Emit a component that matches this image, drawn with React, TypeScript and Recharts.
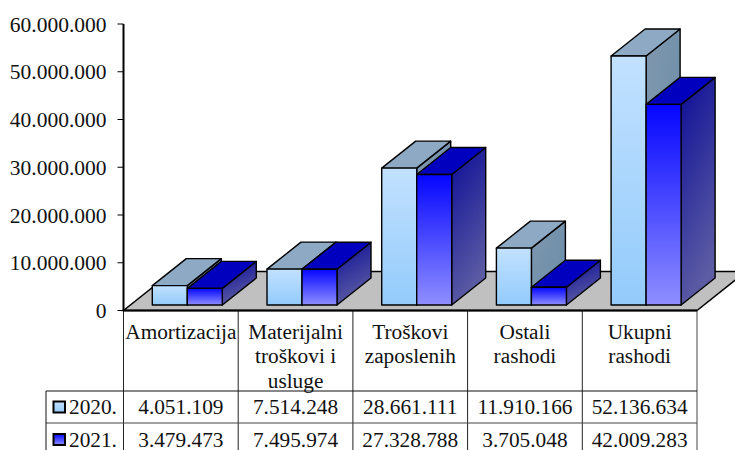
import React from "react";
import { BarChart, Bar, XAxis, YAxis, usePlotArea } from "recharts";

const categories = ["Amortizacija", "Materijalni|troškovi i|usluge", "Troškovi|zaposlenih", "Ostali|rashodi", "Ukupni|rashodi"];
const values2020 = [4051109, 7514248, 28661111, 11910166, 52136634];
const values2021 = [3479473, 7495974, 27328788, 3705048, 42009283];
const seriesNames = ["2020.", "2021."];
const yTicks = [0, 10000000, 20000000, 30000000, 40000000, 50000000, 60000000];

const data = categories.map((c, i) => ({ name: c, a: values2020[i], b: values2021[i] }));
const FONT = "'Liberation Serif', 'Times New Roman', serif";
const fmt = (v: number) => String(v).replace(/\B(?=(\d{3})+(?!\d))/g, ".");

const DX = 34, DY = 27, SHIFT_X = 6.8, SHIFT_Y = -5.5;
const STROKE = { stroke: "#000", strokeWidth: 1.4, strokeLinejoin: "round" as const };

function box(front: string, side: string, top: string) {
  return (p: any) => {
    const x = p.x + SHIFT_X, y = p.y + SHIFT_Y, w = p.width, h = p.height;
    return (
      <g>
        <polygon points={`${x + w},${y} ${x + w + DX},${y - DY} ${x + w + DX},${y + h - DY} ${x + w},${y + h}`} fill={side} {...STROKE} />
        <polygon points={`${x},${y} ${x + DX},${y - DY} ${x + w + DX},${y - DY} ${x + w},${y}`} fill={top} {...STROKE} />
        <rect x={x} y={y} width={w} height={h} fill={front} {...STROKE} />
      </g>
    );
  };
}

function Floor() {
  const pa = usePlotArea();
  if (!pa) return null;
  const x0 = pa.x, x1 = pa.x + pa.width, yb = pa.y + pa.height, d = 39, dx = 49;
  return <polygon points={`${x0},${yb} ${x1},${yb} ${x1 + dx},${yb - d} ${x0 + dx},${yb - d}`} fill="#C0C0C0" stroke="#000" strokeWidth={1.5} />;
}

function TableGrid() {
  const pa = usePlotArea();
  if (!pa) return null;
  const x0 = pa.x, yb = pa.y + pa.height, slot = pa.width / categories.length;
  const left = 46, r1 = 391, r2 = 423, bottom = 452;
  const cols = categories.map((_, i) => x0 + slot * i).concat(x0 + pa.width);
  return (
    <g>
      {cols.map((cx, i) => (
        <line key={i} x1={cx} x2={cx} y1={yb} y2={bottom} stroke={i === 5 ? "#444" : "#222"} strokeWidth={1} />
      ))}
      <line x1={left} x2={x0 + pa.width} y1={r1} y2={r1} stroke="#111" strokeWidth={1.2} />
      <line x1={left} x2={x0 + pa.width} y1={r2} y2={r2} stroke="#444" strokeWidth={1.2} />
      <line x1={left} x2={left} y1={r1} y2={bottom} stroke="#111" strokeWidth={1} />
      {seriesNames.map((n, i) => {
        const cy = i === 0 ? 407 : 439.5;
        return (
          <g key={n}>
            <rect x={53.5} y={cy - 5.5} width={11.5} height={11} fill={i === 0 ? "url(#frontA)" : "url(#frontB)"} stroke="#000" strokeWidth={2} />
            <text x={69} y={cy + 7} fontFamily={FONT} fontSize={21.3} fill="#111">{n}</text>
          </g>
        );
      })}
    </g>
  );
}

function CategoryTick(p: any) {
  const { x, payload, index } = p;
  const lines = String(payload.value).split("|");
  return (
    <g fontFamily={FONT} fontSize={21.3} fill="#111" textAnchor="middle">
      {lines.map((l: string, i: number) => (
        <text key={i} x={x} y={338.5 + i * 24.6}>{l}</text>
      ))}
      <text x={x} y={414}>{fmt(values2020[index])}</text>
      <text x={x} y={446.5}>{fmt(values2021[index])}</text>
    </g>
  );
}

export default function App() {
  return (
    <div style={{ position: "absolute", left: 0, top: 0, width: 735, height: 450, overflow: "hidden", background: "#fff" }}>
      <BarChart
        width={735}
        height={450}
        data={data}
        barSize={35}
        barGap={0}
        margin={{ top: 24, right: 38, bottom: 0, left: 0 }}
      >
        <defs>
          <linearGradient id="frontA" x1="0" y1="0" x2="0" y2="1">
            <stop offset="0" stopColor="#C2E1FF" />
            <stop offset="1" stopColor="#93CBFB" />
          </linearGradient>
          <linearGradient id="sideA" x1="0" y1="0" x2="1" y2="1">
            <stop offset="0" stopColor="#7F97AE" />
            <stop offset="1" stopColor="#698CA8" />
          </linearGradient>
          <linearGradient id="frontB" x1="0" y1="0" x2="0" y2="1">
            <stop offset="0" stopColor="#0505FF" />
            <stop offset="1" stopColor="#8F8FFF" />
          </linearGradient>
          <linearGradient id="sideB" x1="0" y1="0" x2="0.3" y2="1">
            <stop offset="0" stopColor="#0C0C96" />
            <stop offset="1" stopColor="#5C5CA4" />
          </linearGradient>
        </defs>
        <Floor />
        <XAxis
          dataKey="name"
          height={139.5}
          axisLine={{ stroke: "#000", strokeWidth: 2 }}
          tickLine={false}
          interval={0}
          tick={<CategoryTick />}
        />
        <YAxis
          width={123.5}
          domain={[0, 60000000]}
          ticks={yTicks}
          interval={0}
          tickFormatter={fmt}
          axisLine={{ stroke: "#000", strokeWidth: 2 }}
          tickLine={{ stroke: "#000", strokeWidth: 1 }}
          tickSize={6}
          tickMargin={11}
          tick={{ fontFamily: FONT, fontSize: 21.5, fill: "#111" }}
        />
        <TableGrid />
        <Bar dataKey="a" isAnimationActive={false} shape={box("url(#frontA)", "url(#sideA)", "#8DA9C3")} />
        <Bar dataKey="b" isAnimationActive={false} shape={box("url(#frontB)", "url(#sideB)", "#0000BE")} />
      </BarChart>
    </div>
  );
}
